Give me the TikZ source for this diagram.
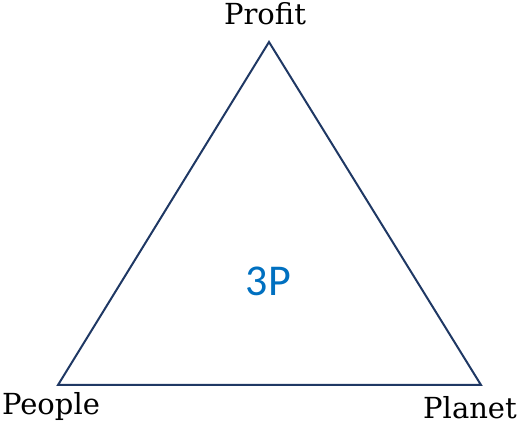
\documentclass[tikz,border=0pt]{standalone}
\usepackage{fontspec}
\setmainfont{DejaVu Serif}
\newfontfamily\labelsans{Carlito}
\definecolor{edgenavy}{RGB}{31,56,100}
\definecolor{centreblue}{RGB}{0,112,192}

\begin{document}
\begin{tikzpicture}[x=1pt,y=1pt,
    corner/.style={anchor=base,inner sep=0pt,font=\fontsize{29}{34}\selectfont}]
    \useasboundingbox (0,0) rectangle (520,431);
    % Corners of the triangle
    \coordinate (top) at (269,389);
    \coordinate (left) at (58,46);
    \coordinate (right) at (481,46);
    % Draw the triangle
    \draw[edgenavy, line width=2pt, line join=miter] (top) -- (right) -- (left) -- cycle;
    % Label the corners
    \node[corner] (profit) at (265,406) {Profit};
    \node[corner] (people) at (51,16) {People};
    \node[corner] (planet) at (470,12) {Planet};
    % Centre label
    \node[text=centreblue, font=\labelsans\fontsize{44}{50}\selectfont] (threep) at (268.5,149.5) {3P};
\end{tikzpicture}
\end{document}
